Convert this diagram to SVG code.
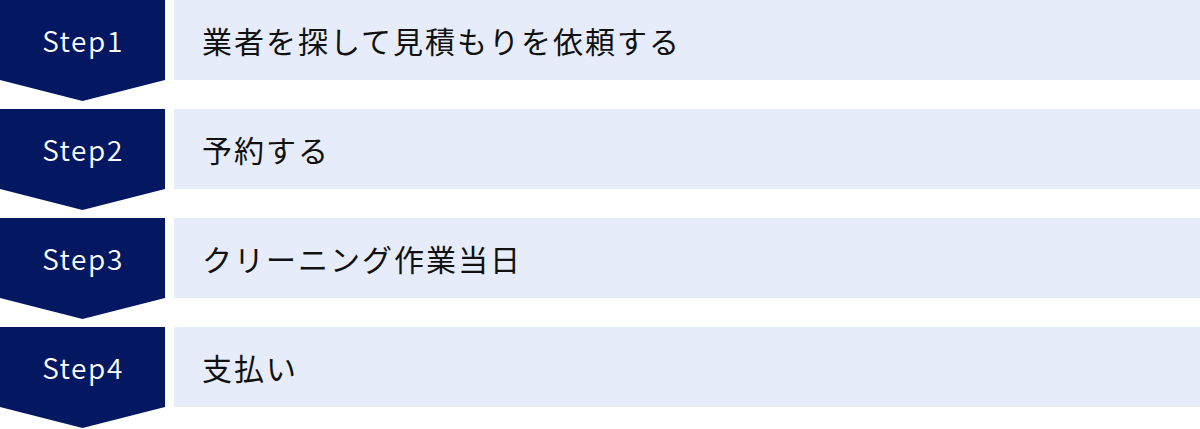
<svg xmlns="http://www.w3.org/2000/svg" width="1200" height="429" viewBox="0 0 1200 429">
<style>
.badge{fill:#041862}
.bar{fill:#E6ECF9}
.step{font-family:"Noto Sans CJK JP","Noto Sans",sans-serif;font-size:28px;font-weight:350;fill:#ffffff;letter-spacing:1.6px;text-anchor:middle}
.label{font-family:"Noto Sans CJK JP",sans-serif;font-size:30px;font-weight:400;fill:#111111;letter-spacing:2px}
</style>
<rect width="1200" height="429" fill="#ffffff"/>
<g id="step1" transform="translate(0,0)">
<polygon class="badge" points="0,0 165,0 165,80 82.5,101 0,80"/>
<rect class="bar" x="174" y="0" width="1026" height="80"/>
<text class="step" x="83" y="52">Step1</text>
<text class="label" x="202" y="53">業者を探して見積もりを依頼する</text>
</g>
<g id="step2" transform="translate(0,109)">
<polygon class="badge" points="0,0 165,0 165,80 82.5,101 0,80"/>
<rect class="bar" x="174" y="0" width="1026" height="80"/>
<text class="step" x="83" y="52">Step2</text>
<text class="label" x="202" y="53">予約する</text>
</g>
<g id="step3" transform="translate(0,218)">
<polygon class="badge" points="0,0 165,0 165,80 82.5,101 0,80"/>
<rect class="bar" x="174" y="0" width="1026" height="80"/>
<text class="step" x="83" y="52">Step3</text>
<text class="label" x="202" y="53">クリーニング作業当日</text>
</g>
<g id="step4" transform="translate(0,327)">
<polygon class="badge" points="0,0 165,0 165,80 82.5,101 0,80"/>
<rect class="bar" x="174" y="0" width="1026" height="80"/>
<text class="step" x="83" y="52">Step4</text>
<text class="label" x="202" y="53">支払い</text>
</g>
<g id="connectors"></g>
</svg>
